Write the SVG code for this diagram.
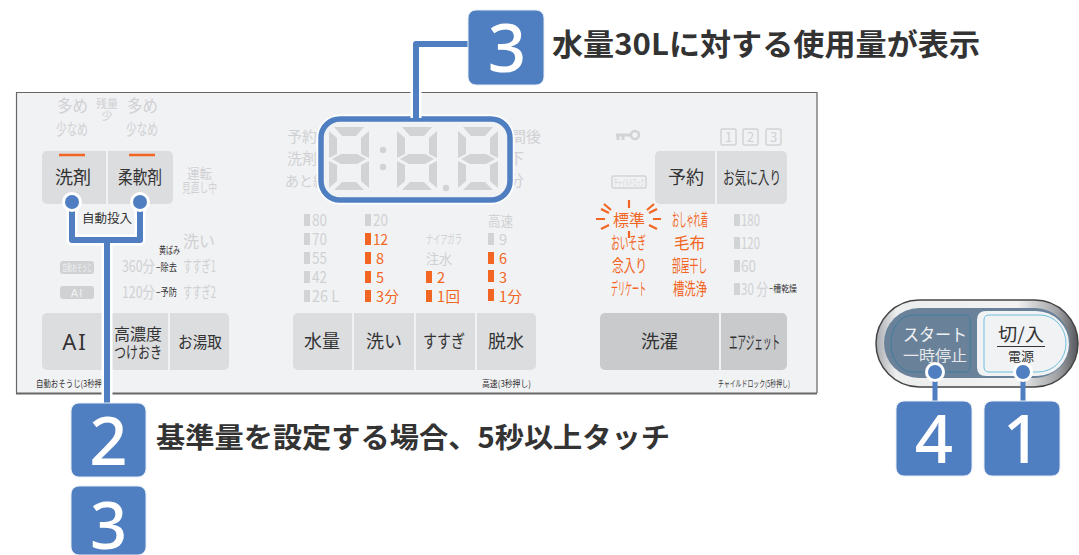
<svg xmlns="http://www.w3.org/2000/svg" width="1079" height="555" viewBox="0 0 1079 555">
<defs>
<linearGradient id="rim" x1="0" y1="0" x2="1" y2="0"><stop offset="0" stop-color="#a8abb0"/><stop offset=".1" stop-color="#eceded"/><stop offset=".7" stop-color="#f2f2f3"/><stop offset=".9" stop-color="#a0a1a4"/><stop offset="1" stop-color="#55565a"/></linearGradient>
<g id="seg" fill="#d2d3d5">
<path d="M5 0H35L27 9H13Z"/><path d="M0 4L8 11V27L0 31Z"/><path d="M40 4L32 11V27L40 31Z"/><path d="M3 32L12 27H28L37 32L28 37H12Z"/><path d="M0 34L8 38V54L0 61Z"/><path d="M40 34L32 38V54L40 61Z"/><path d="M5 63H35L27 55H13Z"/>
</g>
</defs>
<style>
text{font-family:"Noto Sans CJK JP","Liberation Sans",sans-serif}
.g{fill:#d2d3d5}
.gt{fill:#d0d1d3}
.o{fill:#f26522}
.d{fill:#333}
.btn{fill:#dcdddf}
.btd{fill:#c9cacc}
.sep{stroke:#f1f2f4;stroke-width:2}
.m{text-anchor:middle}
.badge{fill:#4f7fc1;stroke:#e6edf6;stroke-width:1}
.num{font-family:"Noto Sans",sans-serif;font-weight:500;font-size:67px;fill:#fff;text-anchor:middle}
.cap{font-weight:700;fill:#333}
.halo{fill:none;stroke:#fff;stroke-width:11;stroke-linejoin:round}
.ln{fill:none;stroke:#4f7fc1;stroke-width:6;stroke-linejoin:round}
.dot{fill:#4f7fc1;stroke:#fff;stroke-width:3}
</style>
<g id="panel">
<rect x="16" y="92" width="801" height="301" fill="#f1f2f4"/>
<path d="M16.500 393V92.500H817V393" fill="none" stroke="#666" stroke-width="1.200"/>
<path d="M16 393.500H817" stroke="#666" stroke-width="2"/>
</g>
<g id="indicators-left">
<g class="gt" font-size="17"><text x="57" y="112" textLength="31" lengthAdjust="spacingAndGlyphs">多め</text><text x="127" y="112" textLength="31" lengthAdjust="spacingAndGlyphs">多め</text><text x="56" y="135" font-size="16" textLength="32" lengthAdjust="spacingAndGlyphs">少なめ</text><text x="126" y="135" font-size="16" textLength="32" lengthAdjust="spacingAndGlyphs">少なめ</text></g>
<g class="gt" font-size="11"><text x="96" y="108" textLength="22" lengthAdjust="spacingAndGlyphs">残量</text><text x="107" y="120" class="m">少</text><text x="187" y="178" textLength="25" lengthAdjust="spacingAndGlyphs" font-size="13">運転</text><text x="182" y="192" textLength="35" lengthAdjust="spacingAndGlyphs" font-size="13">見直し中</text></g>
<text x="183" y="247" class="gt" font-size="16" textLength="32" lengthAdjust="spacingAndGlyphs">洗い</text>
<text x="183" y="272" class="gt" font-size="16" textLength="33" lengthAdjust="spacingAndGlyphs">すすぎ1</text>
<text x="183" y="298" class="gt" font-size="16" textLength="33" lengthAdjust="spacingAndGlyphs">すすぎ2</text>
<text x="122" y="272" class="gt" font-size="16" textLength="33" lengthAdjust="spacingAndGlyphs">360分</text>
<text x="122" y="298" class="gt" font-size="16" textLength="33" lengthAdjust="spacingAndGlyphs">120分</text>
<g class="d" font-size="10"><text x="159" y="254" textLength="21" lengthAdjust="spacingAndGlyphs">黄ばみ</text><text x="156" y="271" textLength="21" lengthAdjust="spacingAndGlyphs">−除去</text><text x="156" y="296" textLength="21" lengthAdjust="spacingAndGlyphs">−予防</text></g>
<rect x="60" y="261" width="34" height="13" rx="3" class="gt"/><text x="62" y="271" font-size="9" fill="#f1f2f4" textLength="30" lengthAdjust="spacingAndGlyphs">自動おそうじ</text>
<rect x="60" y="286" width="34" height="13" rx="3" class="gt"/><text x="77" y="297" class="m" font-size="11" fill="#f1f2f4" letter-spacing="1" style="font-family:'Liberation Sans',sans-serif">AI</text>
<text x="82" y="223" class="d" font-size="12.500" textLength="50" lengthAdjust="spacingAndGlyphs">自動投入</text>
</g>
<g id="btn-detergent">
<rect x="42" y="151" width="131" height="53" rx="5" class="btn"/><path d="M107 151V204" class="sep"/>
<path d="M59 155H85M129 155H155" stroke="#f26522" stroke-width="2.500"/>
<text x="55" y="184" class="d" font-size="18" textLength="36" lengthAdjust="spacingAndGlyphs">洗剤</text><text x="118" y="184" class="d" font-size="18" textLength="44" lengthAdjust="spacingAndGlyphs">柔軟剤</text>
</g>
<g id="display">
<g class="gt" font-size="15"><text x="287" y="142">予約</text><text x="287" y="164">洗剤</text><text x="285" y="186" font-size="14">あと約</text><text x="541" y="142" text-anchor="end">時間後</text><text x="524" y="164" text-anchor="end">以下</text><text x="524" y="186" text-anchor="end">分</text></g>
<rect x="321" y="119" width="189" height="81" rx="19" fill="#f1f2f4" stroke="#fff" stroke-width="9"/>
<rect x="321" y="119" width="189" height="81" rx="19" fill="#f1f2f4" stroke="#4f7fc1" stroke-width="5.500"/>
<use href="#seg" x="329" y="127"/><use href="#seg" x="397" y="127"/><use href="#seg" x="458" y="127"/>
<circle cx="383" cy="150" r="3.200" class="g"/><circle cx="383" cy="167" r="3.200" class="g"/><circle cx="446" cy="188" r="3.200" class="g"/>
</g>
<g id="scale-columns">
<g class="g"><rect x="304" y="214" width="6" height="12"/><rect x="304" y="233" width="6" height="12"/><rect x="304" y="252" width="6" height="12"/><rect x="304" y="271" width="6" height="12"/><rect x="304" y="290" width="6" height="12"/><rect x="365" y="214" width="6" height="12"/><rect x="488" y="233" width="6" height="12"/></g>
<g class="gt" font-size="16"><text x="312" y="226" textLength="15" lengthAdjust="spacingAndGlyphs">80</text><text x="312" y="245" textLength="15" lengthAdjust="spacingAndGlyphs">70</text><text x="312" y="264" textLength="15" lengthAdjust="spacingAndGlyphs">55</text><text x="312" y="283" textLength="15" lengthAdjust="spacingAndGlyphs">42</text><text x="312" y="302" textLength="27" lengthAdjust="spacingAndGlyphs">26 L</text><text x="373" y="226" textLength="15" lengthAdjust="spacingAndGlyphs">20</text><text x="488" y="226" font-size="14" textLength="25" lengthAdjust="spacingAndGlyphs">高速</text><text x="499" y="245" font-size="14.500">9</text><text x="426" y="264" font-size="14" textLength="26" lengthAdjust="spacingAndGlyphs">注水</text></g>
<text x="426" y="244" class="gt" font-size="12" textLength="36" lengthAdjust="spacingAndGlyphs">ナイアガラ</text>
<g class="o"><rect x="365" y="233" width="6" height="12"/><rect x="365" y="252" width="6" height="12"/><rect x="365" y="271" width="6" height="12"/><rect x="365" y="290" width="6" height="12"/><rect x="426" y="271" width="6" height="12"/><rect x="426" y="290" width="6" height="12"/><rect x="488" y="252" width="6" height="12"/><rect x="488" y="270" width="6" height="12"/><rect x="488" y="289" width="6" height="12"/></g>
<g class="o" font-size="14.500"><text x="373" y="245" textLength="15" lengthAdjust="spacingAndGlyphs">12</text><text x="376" y="264">8</text><text x="376" y="283">5</text><text x="376" y="302" textLength="23">3分</text><text x="437" y="283">2</text><text x="437" y="302" textLength="23">1回</text><text x="499" y="264">6</text><text x="499" y="283">3</text><text x="499" y="302" textLength="23">1分</text></g>
</g>
<g id="indicators-right">
<path d="M616 135H632M618 135V140M623 135V140" stroke="#d2d3d5" stroke-width="3" fill="none"/><circle cx="635" cy="135" r="4" fill="none" stroke="#d2d3d5" stroke-width="2.500"/>
<g fill="none" stroke="#d2d3d5" stroke-width="1.500"><rect x="721" y="129" width="15" height="16" rx="1.500"/><rect x="743" y="129" width="15" height="16" rx="1.500"/><rect x="766" y="129" width="15" height="16" rx="1.500"/><rect x="612" y="176" width="34" height="12" rx="1.500"/></g>
<g class="gt m" font-size="13"><text x="728.500" y="142">1</text><text x="750.500" y="142">2</text><text x="773.500" y="142">3</text></g>
<text x="614" y="185.500" class="gt" font-size="9" textLength="30" lengthAdjust="spacingAndGlyphs">チャイルドロック</text>
<g class="o" font-size="17"><text x="613" y="226" font-size="16" textLength="32" lengthAdjust="spacingAndGlyphs">標準</text><text x="611" y="249" textLength="35" lengthAdjust="spacingAndGlyphs">おいそぎ</text><text x="612" y="272" textLength="35" lengthAdjust="spacingAndGlyphs">念入り</text><text x="611" y="295" textLength="35" lengthAdjust="spacingAndGlyphs">デリケート</text><text x="672" y="226" textLength="36" lengthAdjust="spacingAndGlyphs">おしゃれ着</text><text x="674" y="249" font-size="16" textLength="31" lengthAdjust="spacingAndGlyphs">毛布</text><text x="672" y="272" textLength="35" lengthAdjust="spacingAndGlyphs">部屋干し</text><text x="673" y="295" textLength="34" lengthAdjust="spacingAndGlyphs">槽洗浄</text></g>
<path d="M629 200V208M629 231V238M596 219H605M653 219H661M604 204L611 210M654 204L647 210M601 209L609 213M657 209L649 213M601 229L609 225M657 229L649 225" stroke="#f26522" stroke-width="2.200" fill="none"/>
<g class="g"><rect x="734" y="214" width="6" height="12"/><rect x="734" y="237" width="6" height="12"/><rect x="734" y="260" width="6" height="12"/><rect x="734" y="283" width="6" height="12"/></g>
<g class="gt" font-size="16"><text x="741" y="226" textLength="19" lengthAdjust="spacingAndGlyphs">180</text><text x="741" y="249" textLength="19" lengthAdjust="spacingAndGlyphs">120</text><text x="741" y="272" textLength="15" lengthAdjust="spacingAndGlyphs">60</text><text x="741" y="295" textLength="27" lengthAdjust="spacingAndGlyphs">30 分</text></g>
<text x="769" y="292" class="d" font-size="9" textLength="28" lengthAdjust="spacingAndGlyphs">−槽乾燥</text>
</g>
<g id="btn-reserve">
<rect x="655" y="151" width="132" height="53" rx="5" class="btn"/><path d="M716 151V204" class="sep"/>
<text x="668" y="184" class="d" font-size="18" textLength="36" lengthAdjust="spacingAndGlyphs">予約</text><text x="723" y="184" class="d" font-size="17" textLength="58" lengthAdjust="spacingAndGlyphs">お気に入り</text>
</g>
<g id="btn-bottom-left">
<rect x="42" y="313" width="187" height="57" rx="5" class="btn"/><path d="M169 313V370" class="sep"/>
<text x="75" y="350" class="m" font-size="22" fill="#333" letter-spacing="2" style="font-family:'Noto Sans',sans-serif">AI</text>
<text x="114" y="340" class="d" font-size="16" textLength="48" lengthAdjust="spacingAndGlyphs">高濃度</text><text x="114" y="358" class="d" font-size="16" textLength="48" lengthAdjust="spacingAndGlyphs">つけおき</text><text x="178" y="348" class="d" font-size="16" textLength="44" lengthAdjust="spacingAndGlyphs">お湯取</text>
<text x="36" y="387" class="d" font-size="9" textLength="76" lengthAdjust="spacingAndGlyphs">自動おそうじ(3秒押し)</text>
</g>
<g id="btn-bottom-mid">
<rect x="293" y="313" width="243" height="57" rx="5" class="btn"/><path d="M353 313V370M415 313V370M476 313V370" class="sep"/>
<g class="d" font-size="18"><text x="304" y="348" textLength="36" lengthAdjust="spacingAndGlyphs">水量</text><text x="366" y="348" textLength="36" lengthAdjust="spacingAndGlyphs">洗い</text><text x="423" y="348" textLength="42" lengthAdjust="spacingAndGlyphs">すすぎ</text><text x="488" y="348" textLength="36" lengthAdjust="spacingAndGlyphs">脱水</text></g>
<text x="482" y="387" class="d" font-size="9" textLength="49" lengthAdjust="spacingAndGlyphs">高速(3秒押し)</text>
</g>
<g id="btn-bottom-right">
<rect x="600" y="313" width="187" height="57" rx="5" class="btd"/><path d="M720 313V370" class="sep"/>
<text x="641" y="348" class="d" font-size="18" textLength="37" lengthAdjust="spacingAndGlyphs">洗濯</text><text x="729" y="349" class="d" font-size="18" textLength="51" lengthAdjust="spacingAndGlyphs">エアジェット</text>
<text x="718" y="387" class="d" font-size="9" textLength="72" lengthAdjust="spacingAndGlyphs">チャイルドロック(5秒押し)</text>
</g>
<g id="power-panel">
<rect x="876" y="300" width="202" height="87" rx="43.500" fill="url(#rim)" stroke="#444" stroke-width="1.500"/>
<rect x="884" y="308" width="186" height="70" rx="35" fill="#6a8299"/>
<path d="M913 315H965Q970 315 970 320V367Q970 372 965 372H913A22 28 0 0 1 891 344A22 28 0 0 1 913 315Z" fill="none" stroke="#3f7c9d" stroke-width="1"/>
<path d="M986 311H1036A33 33 0 0 1 1069 344A32 32 0 0 1 1037 376H986Q977 376 977 367V320Q977 311 986 311Z" fill="#f1f2f4"/>
<path d="M989 315H1040A26 28.500 0 0 1 1066 343A28 28.500 0 0 1 1038 372H989Q984 372 984 367V320Q984 315 989 315Z" fill="#f1f2f4" stroke="#6fc0dd" stroke-width="1"/>
<text x="903" y="341" font-size="17" fill="#f1f2f4" textLength="64" lengthAdjust="spacingAndGlyphs">スタート</text><text x="903" y="361" font-size="15" fill="#e6e8ea" textLength="64" lengthAdjust="spacingAndGlyphs">一時停止</text>
<text x="998" y="341" class="d" font-size="18" textLength="46" lengthAdjust="spacingAndGlyphs">切/入</text><path d="M997 346.500H1045" stroke="#333" stroke-width="1"/><text x="1008" y="361" class="d" font-size="13" textLength="26" lengthAdjust="spacingAndGlyphs">電源</text>
</g>
<g id="connectors">
<path class="halo" d="M72 202V240H140V202M107 240V405M416 118V44H470"/>
<path class="ln" d="M72 202V240H140V202M107 240V405M416 118V44H470"/>
<circle cx="72" cy="202" r="8.500" class="dot"/><circle cx="140" cy="202" r="8.500" class="dot"/>
<path class="ln" style="stroke-width:5" d="M935 372V402M1023 372V402"/>
<circle cx="935" cy="372" r="8.500" class="dot"/><circle cx="1023" cy="372" r="8.500" class="dot"/>
</g>
<g id="badge-top"><rect x="468" y="10" width="76" height="75" rx="8" class="badge"/><text x="507" y="72" class="num">3</text></g>
<g id="badge-2"><rect x="71" y="403" width="75" height="74" rx="8" class="badge"/><text x="108.500" y="465" class="num">2</text></g>
<g id="badge-3"><rect x="71" y="486" width="75" height="69" rx="8" class="badge"/><text x="108.500" y="549" class="num" style="font-size:65px">3</text></g>
<g id="badge-4"><rect x="896" y="401" width="76" height="75" rx="8" class="badge"/><text x="934" y="463" class="num">4</text></g>
<g id="badge-1"><rect x="984" y="401" width="76" height="75" rx="8" class="badge"/><text x="1022" y="463" class="num">1</text></g>
<g id="captions">
<text x="552" y="55" class="cap" font-size="30" textLength="428" lengthAdjust="spacingAndGlyphs">水量30Lに対する使用量が表示</text>
<text x="156" y="448" class="cap" font-size="28" textLength="514" lengthAdjust="spacingAndGlyphs">基準量を設定する場合、5秒以上タッチ</text>
</g>
</svg>
